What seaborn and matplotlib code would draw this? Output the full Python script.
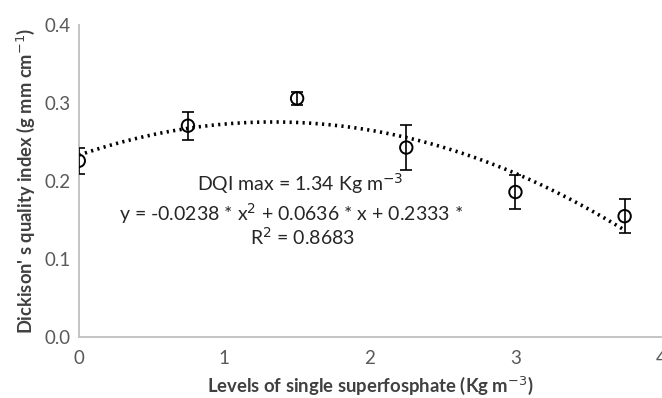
import numpy as np
import pandas as pd
import matplotlib
matplotlib.use("Agg")
import matplotlib.pyplot as plt
import seaborn as sns

# data
levels = [0, 0.75, 1.5, 2.25, 3.0, 3.75]
dqi = [0.226, 0.271, 0.306, 0.243, 0.186, 0.155]
dqi_err = [0.017, 0.018, 0.008, 0.029, 0.022, 0.022]
coef = [-0.0238, 0.0636, 0.2333]
xticks = [0, 1, 2, 3, 4]
yticks = [0.0, 0.1, 0.2, 0.3, 0.4]

sns.set_theme(style="white")
plt.rcParams['font.family'] = ['Lato', 'DejaVu Sans']

fig = plt.figure(figsize=(6.62, 3.98), dpi=100)
ax = fig.add_axes([0.119, 0.153, 0.8795, 0.784])

xs = np.linspace(levels[0], levels[-1], 200)
trend = pd.DataFrame({"x": xs, "y": coef[0] * xs**2 + coef[1] * xs + coef[2]})
sns.lineplot(data=trend, x="x", y="y", ax=ax, color="black", lw=2.6,
             linestyle=(0, (0.6, 1.2)), zorder=2)

df = pd.DataFrame({"x": levels, "y": dqi, "e": dqi_err})
ax.errorbar(df["x"], df["y"], yerr=df["e"], fmt="none", ecolor="black",
            elinewidth=1.2, capsize=4.5, capthick=1.2, zorder=3)
sns.scatterplot(data=df, x="x", y="y", ax=ax, marker="o", s=80,
                facecolor="none", edgecolor="black", linewidth=1.4, zorder=4)

ax.set_xlim(0, 4)
ax.set_ylim(0, 0.4)
ax.set_xticks(xticks)
ax.set_xticklabels([str(t) for t in xticks])
ax.set_yticks(yticks)
ax.set_yticklabels([f"{t:.1f}" for t in yticks])
ax.tick_params(axis="both", length=0, labelsize=13.5, colors="#595959")
ax.tick_params(axis="x", pad=9)
ax.tick_params(axis="y", pad=6)

for s in ["top", "right"]:
    ax.spines[s].set_visible(False)
for s in ["left", "bottom"]:
    ax.spines[s].set_color("#bfbfbf")
    ax.spines[s].set_linewidth(1.3)

ax.set_xlabel("Levels of single superfosphate (Kg m$^{-3}$)", fontsize=13.3,
              fontweight="bold", color="#404040", labelpad=6)
ax.set_ylabel("Dickison' s quality index (g mm cm$^{-1}$)", fontsize=13.2,
              fontweight="bold", color="#404040", labelpad=5)

ax.text(1.52, 0.197, "DQI max = 1.34 Kg m$^{-3}$", ha="center", va="center",
        fontsize=14, color="#262626")
ax.text(1.46, 0.159, "y = -0.0238 * x$^{2}$ + 0.0636 * x + 0.2333 *", ha="center",
        va="center", fontsize=14, color="#262626")
ax.text(1.54, 0.128, "R$^{2}$ = 0.8683", ha="center", va="center",
        fontsize=14, color="#262626")

fig.savefig("out.png", dpi=100)
